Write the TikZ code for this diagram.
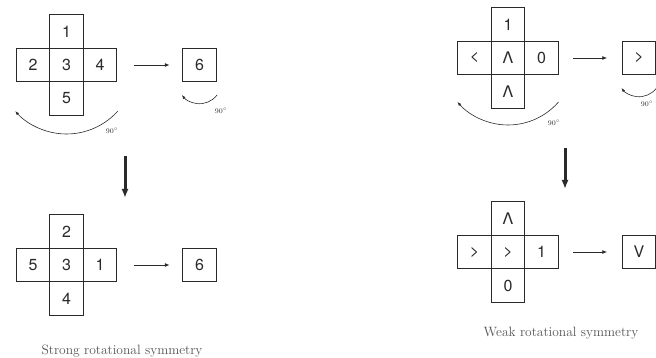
\documentclass[tikz,border=0pt]{standalone}
\usepackage{fontspec}
\newfontfamily\heros{TeX Gyre Heros}
\usepackage{tikz}
\usetikzlibrary{arrows.meta,positioning}
\definecolor{ink}{HTML}{2A2A2A}
\definecolor{capgray}{HTML}{555555}

\begin{document}
\begin{tikzpicture}[
  x=1pt,y=-1pt,
  cell/.style={draw=ink,line width=0.9pt,minimum size=33.5pt,inner sep=0pt,
    outer sep=0pt,font=\heros\fontsize{16}{16}\selectfont,text=ink},
  harr/.style={-{Latex[length=5pt,width=4pt]},line width=0.9pt,draw=ink},
  darr/.style={-{Latex[length=9pt,width=7pt]},line width=3pt,draw=ink},
  rot/.style={-{Latex[length=4pt,width=3pt]},line width=0.6pt,draw=ink},
  deg/.style={font=\fontsize{7}{8}\selectfont,text=ink,inner sep=0pt},
  caption/.style={font=\fontsize{13.5}{15}\selectfont,text=capgray}
]
\clip (0,0) rectangle (656,358);
\useasboundingbox (0,0) rectangle (656,358);
% strong, before
\node[cell] (s3) at (66.5,65) {3};
\node[cell,above=0pt of s3] (s1) {1};
\node[cell,left=0pt of s3] (s2) {2};
\node[cell,right=0pt of s3] (s4) {4};
\node[cell,below=0pt of s3] (s5) {5};
\node[cell,right=66pt of s4] (s6) {6};
\draw[harr,shorten <=17pt,shorten >=13pt] (s4) -- (s6);
\draw[rot] ([shift={(42:69)}]s3.center) arc[start angle=42,end angle=138,radius=69];
\node[deg] (sd1) at (112,131) {$90^\circ$};
\draw[rot] ([shift={(37:22)}]s6.south) arc[start angle=37,end angle=143,radius=22];
\node[deg] (sd2) at (221,111) {$90^\circ$};
% strong, after
\coordinate (sa) at (125,156);
\coordinate (sb) at (125,198);
\draw[darr] (sa) -- (sb);
\node[cell] (t3) at (66.5,265) {3};
\node[cell,above=0pt of t3] (t2) {2};
\node[cell,left=0pt of t3] (t5) {5};
\node[cell,right=0pt of t3] (t1) {1};
\node[cell,below=0pt of t3] (t4) {4};
\node[cell,right=66pt of t1] (t6) {6};
\draw[harr,shorten <=17pt,shorten >=13pt] (t1) -- (t6);
\node[caption] (scap) at (122,351) {Strong rotational symmetry};
% weak, before
\node[cell] (w3) at (508,58) {Λ};
\node[cell,above=0pt of w3] (w1) {1};
\node[cell,left=0pt of w3] (w2) {<};
\node[cell,right=0pt of w3] (w4) {0};
\node[cell,below=0pt of w3] (w5) {Λ};
\node[cell,right=64pt of w4] (w6) {>};
\draw[harr,shorten <=15pt,shorten >=15pt] (w4) -- (w6);
\draw[rot] ([shift={(41:67)}]w3.center) arc[start angle=41,end angle=139,radius=67];
\node[deg] (wd1) at (554,123) {$90^\circ$};
\draw[rot] ([shift={(37:22)}]w6.south) arc[start angle=37,end angle=143,radius=22];
\node[deg] (wd2) at (647,104) {$90^\circ$};
% weak, after
\coordinate (wa) at (565,148);
\coordinate (wb) at (565,189);
\draw[darr] (wa) -- (wb);
\node[cell] (v3) at (508,252) {>};
\node[cell,above=0pt of v3] (v1) {Λ};
\node[cell,left=0pt of v3] (v2) {>};
\node[cell,right=0pt of v3] (v4) {1};
\node[cell,below=0pt of v3] (v5) {0};
\node[cell,right=64pt of v4] (v6) {V};
\draw[harr,shorten <=15pt,shorten >=15pt] (v4) -- (v6);
\node[caption] (wcap) at (561,333) {Weak rotational symmetry};
\end{tikzpicture}
\end{document}
